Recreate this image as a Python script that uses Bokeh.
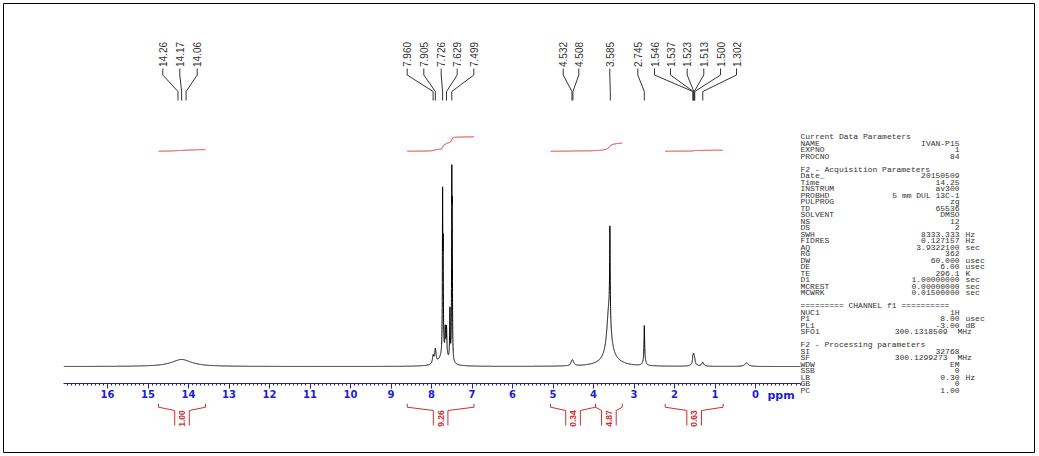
import numpy as np
from bokeh.plotting import figure
from bokeh.models import Range1d, LinearAxis, FixedTicker
from bokeh.embed import file_html
from bokeh.resources import INLINE
from bokeh.core.properties import value

# ---------------- data ----------------
# peak list of the 1H spectrum: position (ppm), height (px above baseline), half-width (ppm)
peak_ppm    = [14.17, 7.960, 7.905, 7.726, 7.712, 7.660, 7.629, 7.545, 7.499, 7.488, 7.700,
               4.532, 4.508, 3.595, 3.620, 3.590, 2.745, 2.745,
               1.546, 1.537, 1.523, 1.513, 1.500, 1.525, 1.302, 0.220]
peak_height = [7.0, 8.0, 14.0, 152.0, 95.0, 25.0, 28.0, 50.0, 168.0, 125.0, 12.0,
               3.5, 3.5, 90.0, 50.0, 8.0, 32.0, 8.0,
               4.0, 4.0, 4.0, 3.0, 2.5, 4.0, 4.0, 3.5]
peak_hwhm   = [0.30, 0.02, 0.02, 0.006, 0.006, 0.010, 0.010, 0.008, 0.006, 0.006, 0.12,
               0.03, 0.03, 0.008, 0.06, 0.25, 0.008, 0.03,
               0.012, 0.012, 0.012, 0.012, 0.012, 0.05, 0.03, 0.05]

shift_labels = ["14.26", "14.17", "14.06",
                "7.960", "7.905", "7.726", "7.629", "7.499",
                "4.532", "4.508", "3.585", "2.745",
                "1.546", "1.537", "1.523", "1.513", "1.500", "1.302"]

integral_start  = [14.74, 8.60, 5.06, 3.95, 2.23]
integral_end    = [13.58, 6.95, 3.95, 3.29, 0.80]
integral_value  = [1.00, 9.26, 0.34, 4.87, 0.63]
integral_labels = ["1.00", "9.26", "0.34", "4.87", "0.63"]

tick_values = list(range(0, 17))
axis_unit = "ppm"

param_names = ["Current Data Parameters", "NAME", "EXPNO", "PROCNO", "",
               "F2 - Acquisition Parameters", "Date_", "Time", "INSTRUM", "PROBHD",
               "PULPROG", "TD", "SOLVENT", "NS", "DS", "SWH", "FIDRES", "AQ", "RG",
               "DW", "DE", "TE", "D1", "MCREST", "MCWRK", "",
               "========= CHANNEL f1 ==========", "NUC1", "P1", "PL1", "SFO1", "",
               "F2 - Processing parameters", "SI", "SF", "WDW", "SSB", "LB", "GB", "PC"]
param_values = ["", "IVAN-P15", "1", "84", "",
                "", "20150509", "14.25", "av300", "5 mm DUL 13C-1",
                "zg", "65536", "DMSO", "12", "2", "8333.333", "0.127157", "3.9322100", "362",
                "60.000", "6.00", "296.1", "1.00000000", "0.00000000", "0.01500000", "",
                "", "1H", "8.00", "-3.00", "300.1318509", "",
                "", "32768", "300.1299273", "EM", "0", "0.30", "0", "1.00"]
param_units = ["", "", "", "", "",
               "", "", "", "", "",
               "", "", "", "", "", "Hz", "Hz", "sec", "",
               "usec", "usec", "K", "sec", "sec", "sec", "",
               "", "", "usec", "dB", "MHz", "",
               "", "", "MHz", "", "", "Hz", "", ""]

# ---------------- layout helpers ----------------
W, H = 1039, 456
FL, FT, FR, FB = 3, 3, 1034, 452     # frame edges in page pixels
X0_PAGE = 755.0      # page x of 0 ppm
PX_PPM = 40.5        # pixels per ppm


def ppm_at(xp):
    return (X0_PAGE - xp) / PX_PPM


BLUE = "#1c1cd2"
RED = "#d22b2b"
GREY = "#333333"
BASE_Y = 366.0

p = figure(width=W, height=H, x_range=Range1d(ppm_at(FL), ppm_at(FR)),
           y_range=Range1d(FB, FT), x_axis_type=None, y_axis_type=None,
           toolbar_location=None, output_backend="svg",
           min_border_left=FL, min_border_top=FT, min_border_right=W - FR,
           min_border_bottom=H - FB)
p.outline_line_color = "black"
p.background_fill_color = "white"
p.border_fill_color = "white"

# ---------------- spectrum ----------------
x = np.arange(-1.11, 17.08, 0.001)
spec = np.zeros_like(x)
for c, h, w in zip(peak_ppm, peak_height, peak_hwhm):
    spec += h * w * w / ((x - c) ** 2 + w * w)
p.line(x, BASE_Y - spec, line_color="black", line_width=1)

# ---------------- integrals ----------------
scale = 1.55
int_base = 150.7
offset = 0.0
prev_end = None
for s, e, v in zip(integral_start, integral_end, integral_value):
    if prev_end is None or abs(s - prev_end) > 1e-9:
        offset = 0.0
    m = (x <= s) & (x >= e)
    xs = x[m][::-1]
    cs = np.cumsum(spec[m][::-1])
    cs = cs / cs[-1]
    p.line(xs, int_base - (offset + v * cs) * scale, line_color=RED, line_width=1)
    offset += v
    prev_end = e

# integral brackets below the axis
dl = 7.3 / PX_PPM
bxs, bys = [], []
for s, e in zip(integral_start, integral_end):
    c = (s + e) / 2
    bxs.append([s, s, c + dl, c + dl]); bys.append([403.3, 406.7, 410, 425])
    bxs.append([e, e, c - dl, c - dl]); bys.append([403.3, 406.7, 410, 425])
p.multi_line(bxs, bys, line_color=RED, line_width=1)
p.text(x=[(s + e) / 2 for s, e in zip(integral_start, integral_end)],
       y=[418] * len(integral_labels), text=integral_labels, angle=np.pi / 2,
       text_align="center", text_baseline="middle", text_color=RED,
       text_font=value("Liberation Sans"), text_font_style="bold", text_font_size="8.5px")

# ---------------- peak labels ----------------
label_x_px = [162.3, 179.3, 196.7, 406.7, 423.3, 440.7, 456.7, 473.3,
              562.7, 578.3, 609.3, 637.3, 654.0, 670.0, 686.7, 703.3, 720.0, 736.0]
lxs, lys = [], []
for lab, xl in zip(shift_labels, label_x_px):
    xa = ppm_at(xl)
    xb = float(lab)
    lxs.append([xa, xa, xb, xb]); lys.append([68, 74.5, 91, 100])
p.multi_line(lxs, lys, line_color="#333333", line_width=1)
p.text(x=[ppm_at(v) for v in label_x_px], y=[66.5] * len(shift_labels), text=shift_labels,
       angle=np.pi / 2, text_align="left", text_baseline="middle", text_color=GREY,
       text_font=value("Liberation Sans"), text_font_size="10px")

# ---------------- axis ----------------
minor = [round(v, 1) for v in np.arange(-1.1, 17.05, 0.1)]
ax = LinearAxis(fixed_location=383.0, bounds=(-1.11, 17.08),
                ticker=FixedTicker(ticks=tick_values, minor_ticks=minor))
ax.axis_line_color = BLUE
ax.major_tick_line_color = BLUE
ax.minor_tick_line_color = BLUE
ax.major_tick_in = 0
ax.major_tick_out = 5
ax.minor_tick_in = 0
ax.minor_tick_out = 2
ax.major_label_text_color = BLUE
ax.major_label_text_font = "DejaVu Sans"
ax.major_label_text_font_style = "bold"
ax.major_label_text_font_size = "10px"
ax.major_label_standoff = 1
p.add_layout(ax, "below")
p.text(x=[ppm_at(767)], y=[395], text=[axis_unit], text_align="left", text_baseline="middle",
       text_color=BLUE, text_font=value("DejaVu Sans"), text_font_style="bold",
       text_font_size="11px")

# ---------------- parameter block ----------------
ty, tx_val, tx_unit = [], [], []
n_names, n_vals, n_units = [], [], []
v_y, u_y = [], []
for i, (nm, vl, un) in enumerate(zip(param_names, param_values, param_units)):
    yy = 136 + 6.51 * i
    if nm:
        n_names.append(nm); ty.append(yy)
    if vl:
        n_vals.append(vl); v_y.append(yy)
        tx_val.append(ppm_at(947 if un == "MHz" else 959))
    if un:
        n_units.append(un); u_y.append(yy)
        tx_unit.append(ppm_at(957 if un == "MHz" else 965))
font_kw = dict(text_font=value("Liberation Mono"), text_font_size="8px", text_color=GREY,
               text_baseline="middle")
p.text(x=[ppm_at(800)] * len(n_names), y=ty, text=n_names, text_align="left", **font_kw)
p.text(x=tx_val, y=v_y, text=n_vals, text_align="right", **font_kw)
p.text(x=tx_unit, y=u_y, text=n_units, text_align="left", **font_kw)

open("out.html", "w").write(file_html(p, INLINE))
